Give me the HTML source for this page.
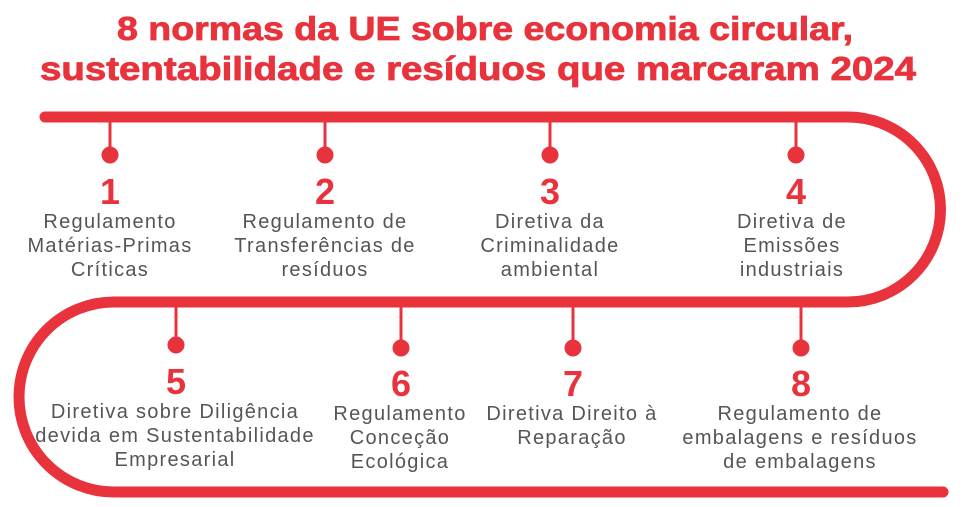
<!DOCTYPE html>
<html><head><meta charset="utf-8"><style>
html,body{margin:0;padding:0;background:#fff;}
svg{display:block;}
.t{font-family:"Liberation Sans",sans-serif;font-weight:bold;fill:#e8333d;font-size:33px;stroke:#e8333d;stroke-width:0.8px;}
.n{font-family:"Liberation Sans",sans-serif;font-weight:bold;fill:#e8333d;font-size:36px;text-anchor:middle;}
.d{font-family:"Liberation Sans",sans-serif;fill:#555;font-size:20px;letter-spacing:1.3px;text-anchor:middle;}
</style></head><body>
<svg width="969" height="507" viewBox="0 0 969 507" xmlns="http://www.w3.org/2000/svg">
<text class="t" x="117" y="40" textLength="736" lengthAdjust="spacingAndGlyphs">8 normas da UE sobre economia circular,</text>
<text class="t" x="40" y="80" textLength="876" lengthAdjust="spacingAndGlyphs">sustentabilidade e resíduos que marcaram 2024</text>
<path d="M45 117 H848 A92.5 92.5 0 0 1 848 302 H114 A95 95 0 0 0 114 492 H943" fill="none" stroke="#e8333d" stroke-width="11" stroke-linecap="round"/>
<g stroke="#e8333d" stroke-width="3">
<line x1="110" y1="117" x2="110" y2="154"/><line x1="325" y1="117" x2="325" y2="154"/>
<line x1="550" y1="117" x2="550" y2="154"/><line x1="796" y1="117" x2="796" y2="154"/>
<line x1="176" y1="302" x2="176" y2="345"/><line x1="401" y1="302" x2="401" y2="347"/>
<line x1="573" y1="302" x2="573" y2="347"/><line x1="801" y1="302" x2="801" y2="347"/>
</g>
<g fill="#e8333d">
<circle cx="110" cy="155" r="8.5"/><circle cx="325" cy="155" r="8.5"/><circle cx="550" cy="155" r="8.5"/><circle cx="796" cy="155" r="8.5"/>
<circle cx="176" cy="345" r="8.5"/><circle cx="401" cy="348" r="8.5"/><circle cx="573" cy="348" r="8.5"/><circle cx="801" cy="348" r="8.5"/>
</g>
<text class="n" x="110" y="204">1</text><text class="n" x="325" y="204">2</text><text class="n" x="550" y="204">3</text><text class="n" x="796" y="204">4</text>
<text class="n" x="176" y="394">5</text><text class="n" x="401" y="396">6</text><text class="n" x="573" y="396">7</text><text class="n" x="801" y="396">8</text>
<text class="d" x="110" y="228">Regulamento</text><text class="d" x="110" y="252">Matérias-Primas</text><text class="d" x="110" y="276">Críticas</text>
<text class="d" x="325" y="228">Regulamento de</text><text class="d" x="325" y="252">Transferências de</text><text class="d" x="325" y="276">resíduos</text>
<text class="d" x="550" y="228">Diretiva da</text><text class="d" x="550" y="252">Criminalidade</text><text class="d" x="550" y="276">ambiental</text>
<text class="d" x="792" y="228">Diretiva de</text><text class="d" x="792" y="252">Emissões</text><text class="d" x="792" y="276">industriais</text>
<text class="d" x="175" y="418">Diretiva sobre Diligência</text><text class="d" x="175" y="442">devida em Sustentabilidade</text><text class="d" x="175" y="466">Empresarial</text>
<text class="d" x="400" y="420">Regulamento</text><text class="d" x="400" y="444">Conceção</text><text class="d" x="400" y="468">Ecológica</text>
<text class="d" x="572" y="420">Diretiva Direito à</text><text class="d" x="572" y="444">Reparação</text>
<text class="d" x="800" y="420">Regulamento de</text><text class="d" x="800" y="444">embalagens e resíduos</text><text class="d" x="800" y="468">de embalagens</text>
</svg>
</body></html>
